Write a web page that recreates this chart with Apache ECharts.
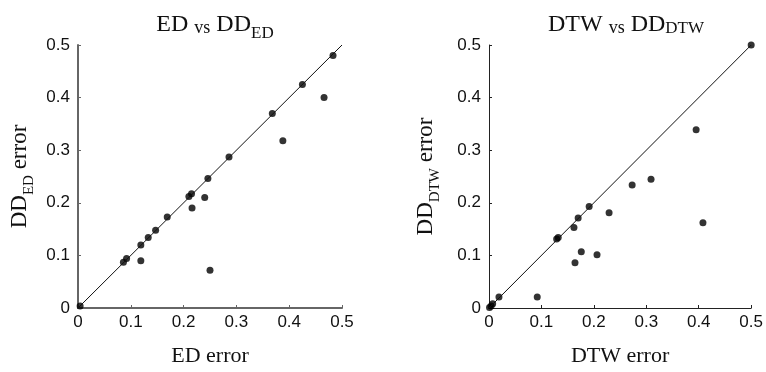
<!DOCTYPE html>
<html><head><meta charset="utf-8">
<script src="https://cdn.jsdelivr.net/npm/echarts@6/dist/echarts.min.js"></script>
<style>html,body{margin:0;padding:0;background:#fff}#c{width:766px;height:372px}</style>
</head><body><div id="c"></div>
<script>
const tickValues = [0, 0.1, 0.2, 0.3, 0.4, 0.5];
const diagonal = [[0, 0], [0.5, 0.5]];
const edX = [0.483, 0.425, 0.466, 0.368, 0.388, 0.286, 0.246, 0.215, 0.210, 0.240, 0.216, 0.169, 0.147, 0.133, 0.119, 0.119, 0.092, 0.086, 0.250, 0.004];
const edY = [0.480, 0.425, 0.400, 0.370, 0.318, 0.287, 0.246, 0.217, 0.212, 0.210, 0.190, 0.173, 0.148, 0.134, 0.120, 0.090, 0.094, 0.087, 0.072, 0.004];
const dtwX = [0.500, 0.395, 0.309, 0.273, 0.191, 0.229, 0.170, 0.162, 0.132, 0.129, 0.176, 0.206, 0.164, 0.408, 0.092, 0.019, 0.007, 0.004, 0.001];
const dtwY = [0.500, 0.339, 0.245, 0.234, 0.193, 0.181, 0.171, 0.153, 0.134, 0.131, 0.107, 0.101, 0.086, 0.162, 0.021, 0.021, 0.008, 0.004, 0.001];

const pairs = (xs, ys) => xs.map((x, i) => [x, ys[i]]);
const serif = 'Liberation Serif';
const sans = 'Liberation Sans';

function xAxis(gi, name, color, w) {
  return {
    type: 'value', gridIndex: gi, min: 0, max: 0.5, interval: 0.1,
    name: name, nameLocation: 'middle', nameGap: 37,
    nameTextStyle: { fontFamily: serif, fontSize: 22, fontWeight: 'normal', color: '#111' },
    axisLine: { show: true, onZero: false, lineStyle: { color: color, width: w } },
    axisTick: { show: true, inside: true, length: 3, lineStyle: { color: color, width: 1 } },
    axisLabel: { fontFamily: sans, fontSize: 17, color: '#111', margin: 6, formatter: v => String(+v.toFixed(1)) },
    splitLine: { show: false }
  };
}
function yAxis(gi, sub, color, w, gap) {
  return {
    type: 'value', gridIndex: gi, min: 0, max: 0.5, interval: 0.1,
    name: '{m|DD}{s|' + sub + '}{m| error}', nameLocation: 'middle', nameGap: gap, nameRotate: 90,
    nameTextStyle: { rich: {
      m: { fontFamily: serif, fontSize: 23, fontWeight: 'normal', color: '#111', verticalAlign: 'bottom', lineHeight: 26 },
      s: { fontFamily: serif, fontSize: 15, fontWeight: 'normal', color: '#111', verticalAlign: 'bottom', lineHeight: 20, padding: [0, 0, -6, 0] }
    } },
    axisLine: { show: true, onZero: false, lineStyle: { color: color, width: w } },
    axisTick: { show: true, inside: true, length: 3, lineStyle: { color: color, width: 1 } },
    axisLabel: { fontFamily: sans, fontSize: 17, color: '#111', margin: 8, formatter: v => String(+v.toFixed(1)) },
    splitLine: { show: false }
  };
}
function title(left, main, sub, drop) {
  return {
    text: '{m|' + main + ' }{v|vs}{m| DD}{s|' + sub + '}',
    left: left, top: 2, textAlign: 'center',
    textStyle: { fontWeight: 'normal', rich: {
      m: { fontFamily: serif, fontSize: 24, fontWeight: 'normal', color: '#111', verticalAlign: 'bottom', lineHeight: 30 },
      v: { fontFamily: serif, fontSize: 18, fontWeight: 'normal', color: '#111', verticalAlign: 'bottom', lineHeight: 30 },
      s: { fontFamily: serif, fontSize: 17, fontWeight: 'normal', color: '#111', verticalAlign: 'bottom', lineHeight: 30, padding: [0, 0, drop, 0] }
    } }
  };
}

const chart = echarts.init(document.getElementById('c'), null, { renderer: 'canvas' });
chart.setOption({
  animation: false,
  backgroundColor: '#fff',
  title: [title(210, 'ED', 'ED', -5), title(621, 'DTW', 'DTW', 0)],
  grid: [
    { left: 78, top: 45, width: 264, height: 263 },
    { left: 489, top: 45, width: 264, height: 263 }
  ],
  xAxis: [xAxis(0, 'ED error', '#666', 2), xAxis(1, 'DTW error', '#222', 1)],
  yAxis: [yAxis(0, 'ED', '#666', 2, 47), yAxis(1, 'DTW', '#222', 1, 52)],
  series: [
    { type: 'line', xAxisIndex: 0, yAxisIndex: 0, data: diagonal, symbol: 'none', lineStyle: { color: '#111', width: 1 }, silent: true },
    { type: 'scatter', xAxisIndex: 0, yAxisIndex: 0, data: pairs(edX, edY), symbolSize: 7, itemStyle: { color: '#000' } },
    { type: 'line', xAxisIndex: 1, yAxisIndex: 1, data: diagonal, symbol: 'none', lineStyle: { color: '#111', width: 1 }, silent: true },
    { type: 'scatter', xAxisIndex: 1, yAxisIndex: 1, data: pairs(dtwX, dtwY), symbolSize: 7, itemStyle: { color: '#000' } }
  ]
});
</script></body></html>
